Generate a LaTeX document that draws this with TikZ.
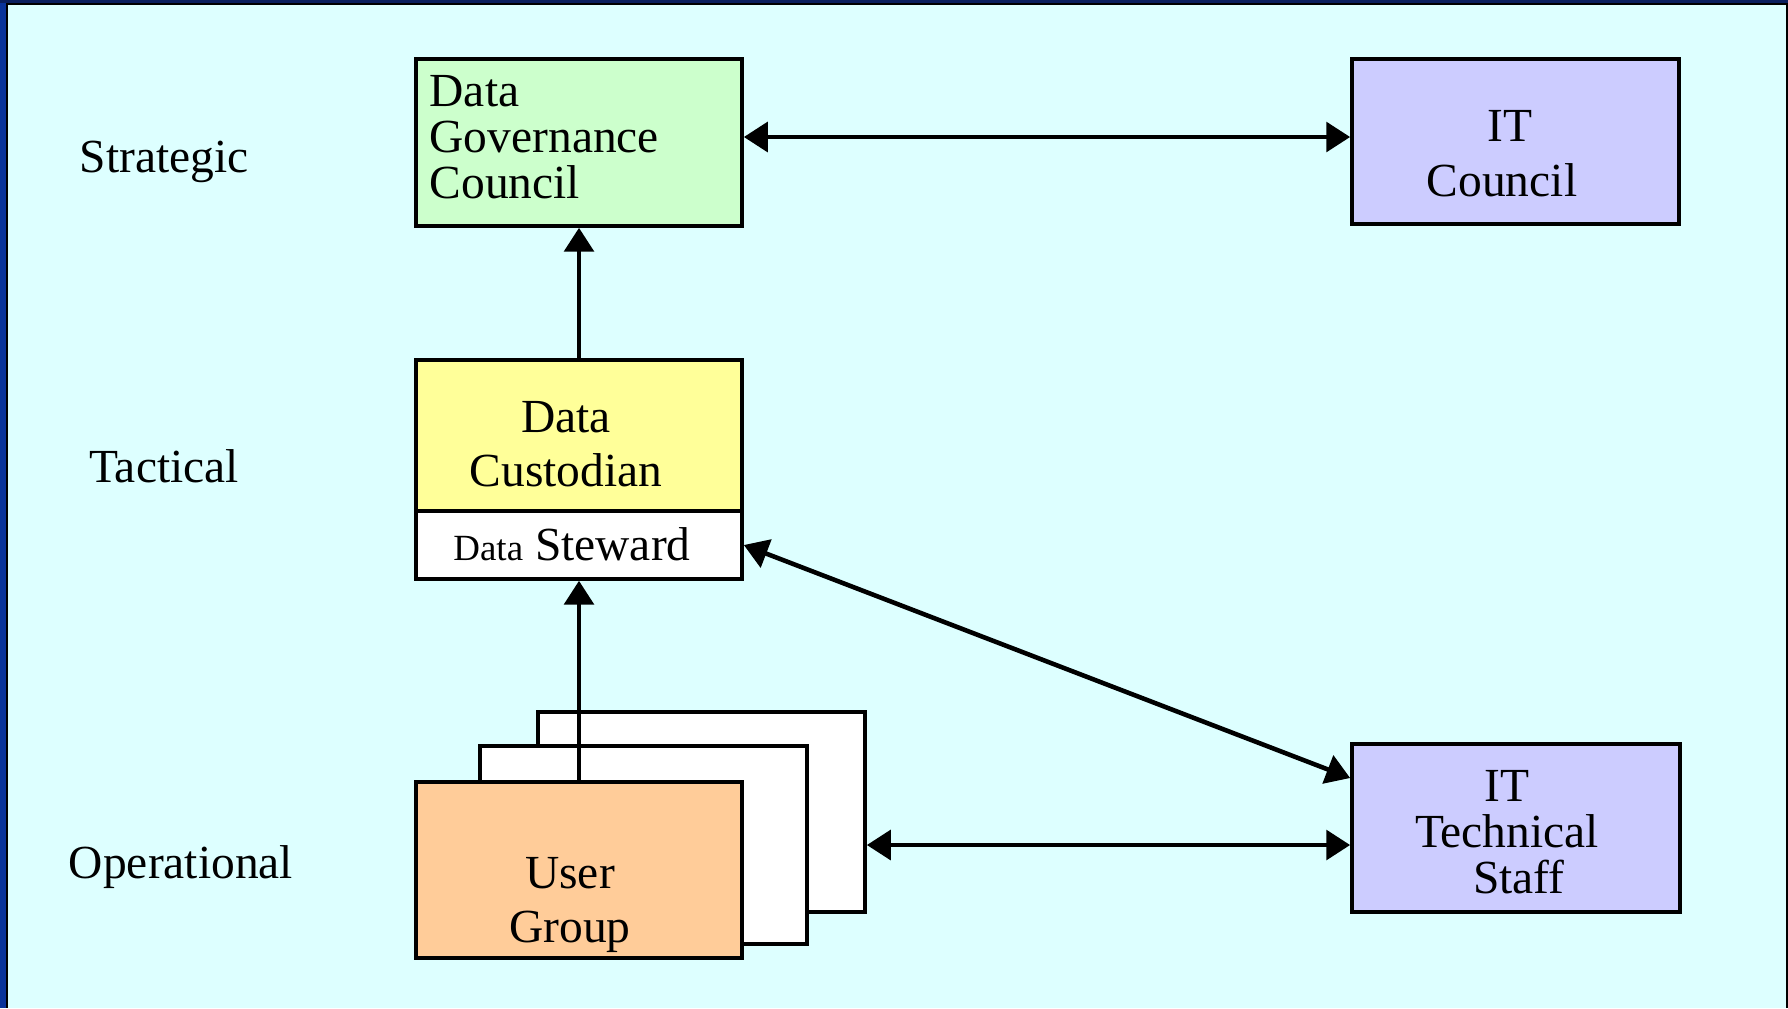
\documentclass[tikz,border=0pt]{standalone}
\usepackage{fontspec}
\setmainfont{Liberation Serif}
\usetikzlibrary{arrows.meta}

\definecolor{bgcyan}{HTML}{DDFFFF}
\definecolor{sidenavy}{HTML}{0A339A}
\definecolor{topnavy}{HTML}{0B1F5E}
\definecolor{govgreen}{HTML}{CCFFCC}
\definecolor{itlilac}{HTML}{CCCCFF}
\definecolor{custyellow}{HTML}{FFFF99}
\definecolor{userorange}{HTML}{FFCC99}

\begin{document}
\begin{tikzpicture}
            [x=0.01cm, y=-0.01cm, >={Triangle[length=6.8pt,width=8.4pt]},
             box/.style={shape=rectangle, draw=black, line width=1.0pt, inner sep=0pt, minimum width=3.26cm},
             boxtext/.style={align=center, inner sep=0pt, font=\fontsize{13.5}{13}\selectfont},
             level/.style={anchor=base, inner sep=0pt, font=\fontsize{13.5}{13}\selectfont},
             link/.style={line width=1.3pt}]
            % background and frame
            \fill[bgcyan] (0,0) rectangle (1788,1008);
            \fill[sidenavy] (0,0) rectangle (6,1008);
            \fill[black] (6,3) rectangle (8,1008);
            \fill[topnavy] (0,0) rectangle (1788,3);
            \fill[black] (6,3) rectangle (1788,5);
            \fill[black] (1786,3) rectangle (1788,1008);
            \useasboundingbox (0,0) rectangle (1788,1008);

            \node[level] (strategic) at (164,172) {Strategic};
            \node[level] (tactical) at (164,482) {Tactical};
            \node[level] (operational) at (181,878) {Operational};

            \node[box, fill=govgreen, minimum height=1.67cm] (dgc) at (579,142.5) {};
            \node[boxtext, anchor=west, align=left] (dgctext) at (429,137) {Data\\Governance\\Council};
            \node[box, fill=itlilac, minimum width=3.27cm, minimum height=1.65cm] (itc) at (1515.5,141.5) {};
            \node[boxtext] (itctext) at (1502,154) {\hspace*{0.34em}IT\\[2.6pt]Council};

            \node[box, fill=custyellow, minimum height=1.51cm] (cust) at (579,435.5) {};
            \node[boxtext] (custtext) at (566,444.5) {Data\\[2.3pt]Custodian};
            \node[box, fill=white, minimum height=0.68cm] (stew) at (579,545) {};
            \node[boxtext] (stewtext) at (572,544.5) {{\fontsize{10.5}{12}\selectfont Data} Steward};

            \node[box, fill=white, minimum width=3.27cm, minimum height=2.0cm] (ugback) at (701.5,812) {};
            \node[box, fill=white, minimum width=3.27cm, minimum height=1.98cm] (ugmid) at (643.5,845) {};
            \node[box, fill=userorange, minimum height=1.76cm] (ugroup) at (579,870) {};
            \node[boxtext] (ugtext) at (570,905) {User\\[2.6pt]Group};

            \node[box, fill=itlilac, minimum width=3.28cm, minimum height=1.68cm] (itts) at (1516,828) {};
            \node[boxtext] (ittstext) at (1507,832) {IT\\Technical\\\hspace*{0.5em}Staff};

            \coordinate (stratline) at (0,137);
            \coordinate (techin) at (0,778);
            \coordinate (operline) at (0,845);

            \path [->, link] (cust.north) edge (dgc.south);
            \path [->, link] (ugroup.north) edge (stew.south);
            \path [<->, link] (dgc.east |- stratline) edge (itc.west |- stratline);
            \path [<->, link] (stew.east) edge (itts.west |- techin);
            \path [<->, link] (ugback.east |- operline) edge (itts.west |- operline);
        \end{tikzpicture}
\end{document}
